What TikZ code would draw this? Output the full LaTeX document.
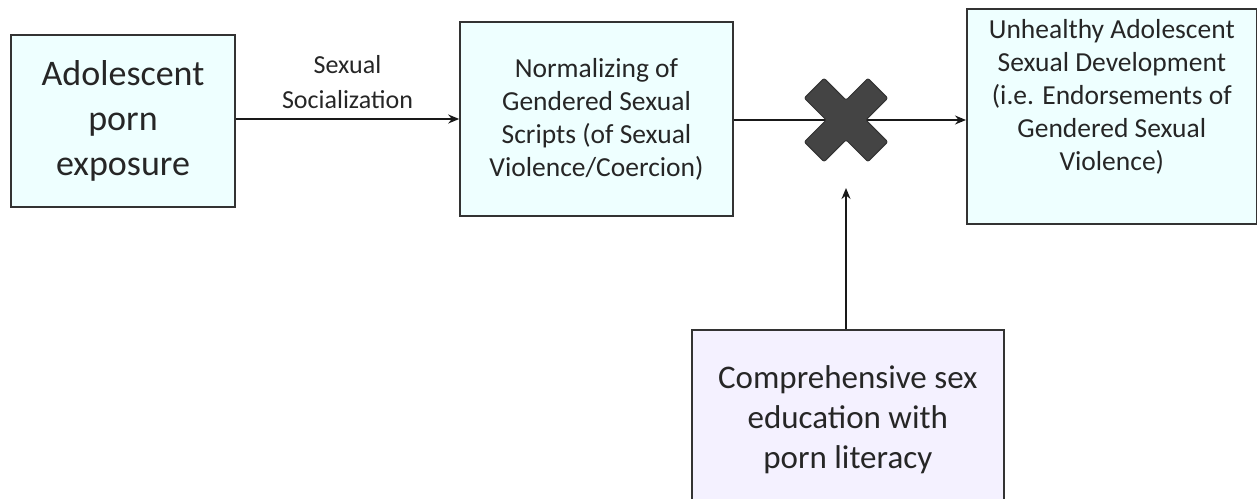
\documentclass[tikz,border=0pt]{standalone}
\usepackage{fontspec}
\setmainfont{Carlito}
\usetikzlibrary{arrows.meta}
\definecolor{txt}{HTML}{262626}
\definecolor{cyanfill}{HTML}{EEFFFF}
\definecolor{lavfill}{HTML}{F4F1FF}
\definecolor{edge}{HTML}{333333}
\definecolor{xgray}{HTML}{444444}
\tikzset{
  box/.style={draw=edge, line width=1.6pt, fill=cyanfill, text=txt, align=center, inner sep=0pt},
  conn/.style={draw=black!90, line width=1.6pt, -{Stealth[length=11pt,width=9pt]}},
  lbl/.style={text=txt, align=center, font=\fontsize{26}{35}\selectfont},
  xshape/.style={fill=xgray, draw=black!80, line width=1pt, rounded corners=2pt}
}
\begin{document}
\begin{tikzpicture}[x=1pt,y=-1pt]
\useasboundingbox (0,0) rectangle (1257,498);
\clip (0,0) rectangle (1257,498);
\node[box, minimum width=224pt, minimum height=172pt, font=\fontsize{36}{45}\selectfont] (a) at (123,121) {Adolescent\\porn\\exposure};
\node[box, minimum width=273pt, minimum height=194pt, font=\fontsize{27.5}{33}\selectfont] (b) at (596.5,119) {Normalizing of\\Gendered Sexual\\Scripts (of Sexual\\Violence/Coercion)};
\node[box, anchor=north west, font=\fontsize{27.5}{33}\selectfont] (c) at (966,8) {\parbox[c][215pt][t]{290pt}{\centering\vspace*{11pt}Unhealthy Adolescent\\Sexual Development\\(i.e. Endorsements of\\Gendered Sexual\\Violence)}};
\node[box, fill=lavfill, anchor=north west, font=\fontsize{33}{40}\selectfont] (d) at (691,329) {\parbox[c][180pt][c]{312pt}{\centering Comprehensive sex\\education with\\porn literacy}};
\coordinate (xm) at (846,120);
\coordinate (xb) at (846,188);
\draw[conn] (a.east |- 0,119) -- node[lbl, above=6pt] {Sexual\\Socialization} (b.west |- 0,119);
\draw[conn] (b.east |- 0,120) -- (c.west |- 0,120);
\draw[xshape, shift={(xm)}, rotate=45] (14,45) -- (14,14) -- (45,14) -- (45,-14) -- (14,-14) -- (14,-45) -- (-14,-45) -- (-14,-14) -- (-45,-14) -- (-45,14) -- (-14,14) -- (-14,45) -- cycle;
\draw[conn] (d.north -| xb) -- (xb);
\end{tikzpicture}
\end{document}
